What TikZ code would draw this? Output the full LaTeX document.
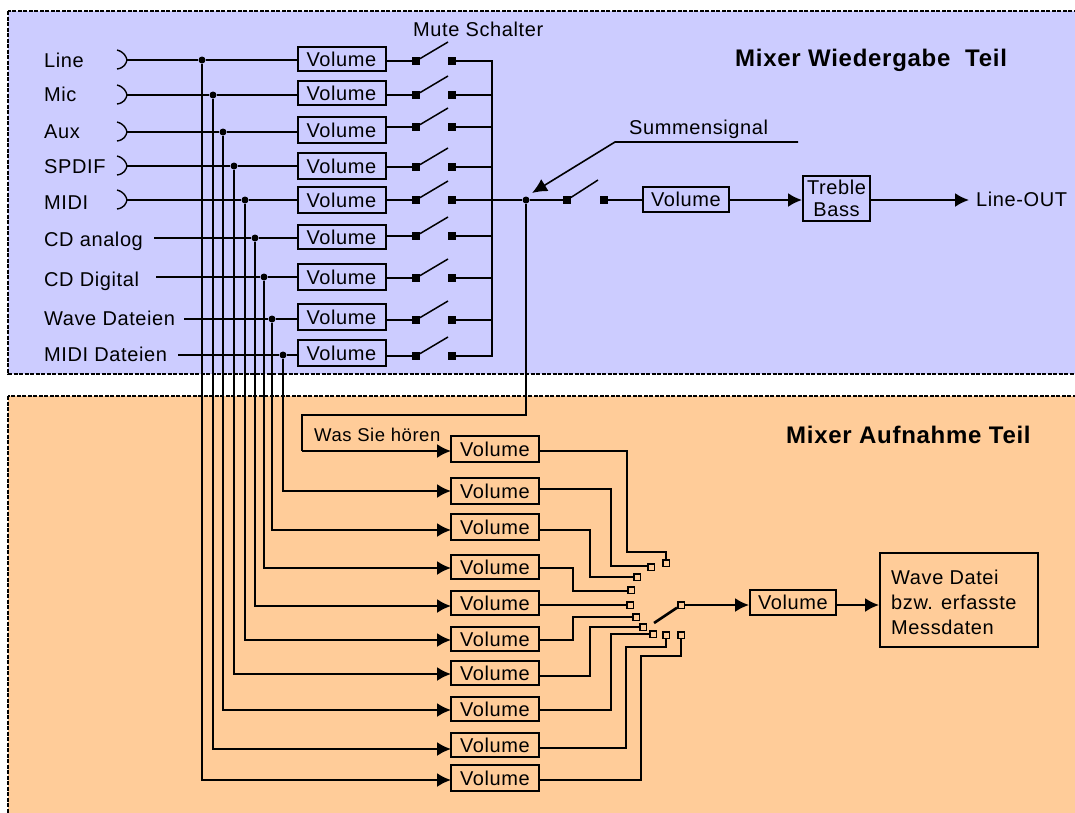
\documentclass[tikz,border=0pt]{standalone}
\usepackage{fontspec}
\setmainfont[LetterSpace=3]{Liberation Sans}
\usetikzlibrary{arrows.meta,calc}
\definecolor{bluepanel}{HTML}{CCCCFF}
\definecolor{orangepanel}{HTML}{FFCC99}
\tikzset{
  x=1pt,y=-1pt,
  wire/.style={line width=2pt,line join=miter},
  arrowwire/.style={wire,-{Latex[length=14pt,width=14pt]}},
  panel/.style={draw=black,line width=1.2pt,dash pattern=on 4pt off 1.5pt},
  volbox/.style={draw=black,line width=2pt,inner sep=0pt,minimum width=88pt,font=\fontsize{20}{22}\selectfont},
  txt/.style={inner sep=0pt,font=\fontsize{20}{22}\selectfont,anchor=base west},
  head/.style={inner sep=0pt,font=\fontsize{24}{26}\selectfont\bfseries,anchor=base west},
  junction/.style={circle,fill=black,inner sep=0pt,minimum size=7pt},
  contact/.style={rectangle,fill=black,inner sep=0pt,minimum size=7.5pt},
  hollow/.style={rectangle,draw=black,line width=1.5pt,inner sep=0pt,minimum size=6.5pt},
  wiper/.style={line width=1.5pt},
}
\begin{document}
\begin{tikzpicture}
\useasboundingbox (0,0) rectangle (1075,812);
\clip (0,0) rectangle (1075,812);
\fill[white] (0,0) rectangle (1075,812);
\path[panel,fill=bluepanel] (8,11) rectangle (1090,374);
\path[panel,fill=orangepanel] (8,396) rectangle (1090,830);
\node[head] (h1) at (735,66) {Mixer Wiedergabe~~Teil};
\node[head] (h2) at (786,443) {Mixer Aufnahme Teil};
\node[txt] (mute) at (413,36) {Mute Schalter};
\node[txt] (summe) at (629,134) {Summensignal};
% --- input rows: index / label / label baseline / wire start x / wire y / trunk x / box y / box height / switch y
\foreach \i/\lab/\ly/\sx/\wy/\tx/\by/\bh/\sy in {
  1/Line/67/127/60/202/59/24/61,
  2/Mic/101/127/95/213/93/24/95,
  3/Aux/138/127/132/223/130/26/127,
  4/SPDIF/173/127/166/234/166/26/167,
  5/MIDI/209/127/200/245/200/26/200,
  6/CD analog/246/154/238/255/237/24/236,
  7/CD Digital/286/156/277/264/277/26/278,
  8/Wave Dateien/325/184/319/272/317/26/320,
  9/MIDI Dateien/361/178/355/283/353/26/356}{
  \node[txt] (l\i) at (44,\ly) {\lab};
  \coordinate (in\i) at (\sx,\wy);
  \node[junction] (t\i) at (\tx,\wy) {};
  \node[volbox,minimum height=\bh pt] (u\i) at (341.5,\by) {Volume};
  \node[contact] (sa\i) at (416,\sy) {};
  \node[contact] (sb\i) at (452,\sy) {};
  \coordinate (se\i) at (448,\sy-19);
  \draw[wire] (in\i) -- (t\i) -- (t\i -| u\i.west);
  \draw[wire] (u\i.east |- sa\i) -- (sa\i);
  \draw[wiper] (sa\i) -- (se\i);
}
% jack symbols
\foreach \i in {1,...,5}{
  \draw[line width=1.4pt] ($(in\i)+(-10,-10)$) .. controls ($(in\i)+(-3,-8)$) and ($(in\i)+(-1,-4)$) .. (in\i) .. controls ($(in\i)+(-1,4)$) and ($(in\i)+(-3,8)$) .. ($(in\i)+(-10,9)$);
}
% summing bus
\coordinate (busT) at (492,61);
\coordinate (busB) at (492,356);
\draw[wire] (sb1) -- (busT) -- (busB) -- (sb9);
\foreach \i in {2,3,4,6,7,8}{\draw[wire] (sb\i) -- (sb\i -| busT);}
% master row
\node[junction] (sum) at (526,200) {};
\node[contact] (ma) at (567,200) {};
\node[contact] (mb) at (604,200) {};
\coordinate (me) at (598,180);
\node[volbox,minimum width=86pt,minimum height=25pt] (mv) at (686,199.5) {Volume};
\node[volbox,minimum width=67pt,minimum height=45pt,align=center,font=\fontsize{20}{22}\selectfont] (tb) at (836.5,198.5) {Treble\\Bass};
\node[txt] (out) at (976,206) {Line-OUT};
\coordinate (outtip) at (969,200);
\draw[wire] (sb5) -- (sum) -- (ma);
\draw[wiper] (ma) -- (me);
\draw[wire] (mb) -- (mv.west |- mb);
\draw[arrowwire] (mv.east |- mb) -- (tb.west |- mb);
\draw[arrowwire] (tb.east |- mb) -- (outtip);
% Summensignal pointer
\coordinate (s1) at (798,142);
\coordinate (s2) at (615,142);
\coordinate (s3) at (532,193);
\draw[wire,line width=1.6pt,-{Latex[length=15pt,width=14pt]}] (s1) -- (s2) -- (s3);
% recording row boxes: index / box y / height / wire y
\foreach \i/\by/\bh/\wy in {
  1/449/26/451, 2/491/26/491, 3/527/26/530, 4/567/24/568, 5/603/24/606,
  6/639/24/640, 7/673/24/674, 8/709/24/710, 9/745/24/749, 10/778/26/780}{
  \node[volbox,minimum height=\bh pt] (r\i) at (495,\by) {Volume};
  \coordinate (rin\i) at (451,\wy);
}
\node[txt,font=\fontsize{18.5}{20}\selectfont] (was) at (314,441) {Was Sie hören};
\coordinate (w1) at (526,415);
\coordinate (w2) at (302,415);
\coordinate (w3) at (302,451);
\draw[wire] (sum) -- (w1) -- (w2) -- (w3);
\draw[arrowwire] (w3) -- (rin1);
% trunks to recording inputs
\foreach \t/\r in {9/2,8/3,7/4,6/5,5/6,4/7,3/8,2/9,1/10}{
  \draw[arrowwire] (t\t) |- (rin\r);
}
% selector contacts: index / x / y
\foreach \i/\x/\y in {1/666/563,2/651/567,3/637/577,4/631/590,5/630/605,6/636/617,7/643/627,8/653/634,9/666/635,10/681/635}{
  \node[hollow] (c\i) at (\x,\y) {};
}
% wires from Volume boxes to selector
\coordinate (a1) at (627,451);  \coordinate (b1) at (627,552);
\draw[wire] (r1.east |- a1) -- (a1) -- (b1) -| (c1);
\coordinate (a2) at (611,489);  \coordinate (b2) at (611,566);
\draw[wire] (r2.east |- a2) -- (a2) -- (b2) -- (b2 -| c2.west);
\coordinate (a3) at (590,530);  \coordinate (b3) at (590,577);
\draw[wire] (r3.east |- a3) -- (a3) -- (b3) -- (c3);
\coordinate (a4) at (573,568);  \coordinate (b4) at (573,591);
\draw[wire] (r4.east |- a4) -- (a4) -- (b4) -- (b4 -| c4.west);
\draw[wire] (r5.east |- c5) -- (c5);
\coordinate (a6) at (573,640);  \coordinate (b6) at (573,617);
\draw[wire] (r6.east |- a6) -- (a6) -- (b6) -- (c6);
\coordinate (a7) at (590,676);  \coordinate (b7) at (590,627);
\draw[wire] (r7.east |- a7) -- (a7) -- (b7) -- (c7);
\coordinate (a8) at (611,710);  \coordinate (b8) at (611,634);
\draw[wire] (r8.east |- a8) -- (a8) -- (b8) -- (c8);
\coordinate (a9) at (626,748);  \coordinate (b9) at (626,647);
\draw[wire] (r9.east |- a9) -- (a9) -- (b9) -| (c9);
\coordinate (a10) at (641,780);  \coordinate (b10) at (641,656);
\draw[wire] (r10.east |- a10) -- (a10) -- (b10) -| (c10);
% selector wiper and output
\node[hollow] (cout) at (681,605) {};
\coordinate (we) at (654,623);
\draw[line width=2.6pt] (cout) -- (we);
\node[volbox,minimum width=86pt,minimum height=25pt] (ov) at (793,602.5) {Volume};
\node[draw=black,line width=2pt,inner sep=0pt,minimum width=158pt,minimum height=94pt] (wav) at (959,600) {};
\node[inner sep=0pt,anchor=west,align=left,font=\fontsize{20}{25}\selectfont] (wavtxt) at (891,602) {Wave Datei\\bzw. erfasste\\Messdaten};
\draw[arrowwire] (cout) -- (ov.west |- cout);
\draw[arrowwire] (ov.east |- cout) -- (wav.west |- cout);
\end{tikzpicture}
\end{document}
